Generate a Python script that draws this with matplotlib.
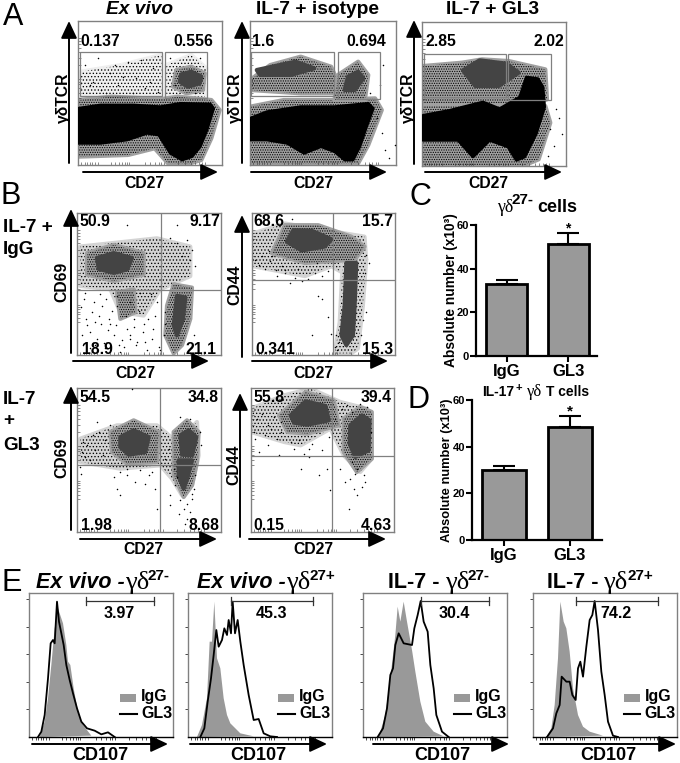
import matplotlib
matplotlib.use('Agg')
import matplotlib.pyplot as plt
from matplotlib.patches import Polygon, Rectangle

plt.rcParams['font.family'] = ['Liberation Sans', 'DejaVu Sans']
plt.rcParams['font.weight'] = 'bold'
plt.rcParams['hatch.linewidth'] = 0.55

W, H = 680, 763
GRAY = '#808080'

# flow panels are in channels 0-432 on both axes
log_ticks = [8, 20, 28, 36, 42, 50, 60, 100, 112, 124, 132, 140, 146, 152, 200, 216, 232, 242, 250, 258, 300, 320, 340, 352, 362, 372, 380]

# Panel A
a1_solid = [(0,170),(67,180),(167,180),(247,175),(307,185),(397,183),(407,170),(387,105),(367,55),(342,25),(312,15),(277,35),(242,90),(207,95),(147,75),(67,65),(0,65)]
a1_dark = [[(305,250),(330,235),(365,245),(370,265),(340,280),(310,272)]]
a1_mid = [[(0,195),(100,205),(250,198),(300,205),(400,195),(425,165),(400,80),(370,15),(330,3),(270,5),(230,50),(150,30),(0,25)],
          [(285,235),(325,215),(375,225),(380,275),(340,295),(295,285)]]
a1_light = [[(8,205),(250,205),(250,330),(130,300),(8,280)],
            [(265,205),(380,205),(385,290),(340,330),(265,300)]]
a2_solid = [(0,140),(50,160),(150,175),(250,175),(350,185),(365,170),(345,115),(325,55),(305,15),(280,15),(250,40),(210,55),(160,35),(110,65),(50,75),(0,75)]
a2_dark = [[(20,285),(135,310),(190,290),(120,270),(30,270)],
           [(280,225),(290,265),(320,280),(335,260),(310,225)]]
a2_mid = [[(0,175),(100,195),(250,195),(370,200),(390,165),(350,60),(320,5),(260,3),(0,5)],
          [(0,255),(60,300),(150,325),(240,295),(260,250),(265,215),(150,215),(0,225)],
          [(250,195),(260,270),(320,310),(350,270),(340,195)]]
a3_solid = [(3,152),(83,167),(183,192),(233,172),(293,207),(313,267),(348,262),(363,237),(368,177),(343,97),(308,27),(283,17),(258,57),(203,77),(153,27),(108,77),(3,77)]
a3_dark = [[(123,287),(173,317),(253,307),(290,280),(230,240),(160,240)]]
a3_mid = [[(3,300),(120,310),(180,320),(260,315),(370,290),(375,200),(300,170),(3,165)],
          [(0,180),(370,180),(385,130),(350,20),(310,3),(0,3)]]

a1_gates = [(5, 207, 247, 131), (260, 200, 126, 138)]
a2_gates = [(3, 207, 247, 131), (259, 199, 127, 139)]
a3_gates = [(5, 207, 248, 130), (259, 198, 129, 139)]
a1_x = [20,45,70,95,120,150,175,200,225,240,60,110,165,215,35,85,135,190,275,290,350,365]
a1_y = [300,250,225,275,240,310,260,230,290,220,320,300,215,250,240,215,265,315,320,240,215,320]
a2_x = [355,375,392,400,412,385,430,395]
a2_y = [215,140,95,45,20,240,60,300]
a3_x = [385,402,420,395,410,378]
a3_y = [110,170,95,60,145,30]

# Panel B
b1_dark = [[(60,295),(110,310),(165,295),(150,260),(110,250),(65,262)],
           [(300,180),(325,175),(318,110),(300,60),(290,90)]]
b1_mid = [[(30,310),(110,335),(200,310),(200,245),(110,225),(30,245)],
          [(290,215),(345,205),(340,110),(315,30),(290,5),(265,60),(270,150)],
          [(120,190),(170,200),(175,130),(130,110)]]
b1_light = [[(10,330),(240,355),(340,330),(340,240),(250,200),(200,120),(130,130),(100,200),(10,210)]]
b1_x = [20,45,70,30,95,120,60,150,85,180,110,200,140,225,170,245,40,75,130,210,15,55,100,160,260,235,250,265,350,340,150,300,265,120,55,
        12,28,52,38,66,82,92,105,118,134,146,158,172,186,198,212,228,240,222,205,190,176,160,125,88,72,48,25,18,300,315,330,280,345,355]
b1_y = [170,130,185,90,110,150,50,80,20,40,60,95,25,50,110,25,20,150,10,15,60,100,95,160,60,120,15,130,60,290,395,395,95,180,30,
        145,110,160,70,120,35,75,135,90,45,120,60,85,135,70,110,80,160,185,40,190,30,50,30,170,95,35,190,30,340,300,350,355,320,270]
b2_dark = [[(105,345),(125,380),(180,378),(240,352),(220,330),(150,318)],
           [(285,280),(315,280),(310,150),(305,60),(285,30),(270,60),(280,150)]]
b2_mid = [[(60,310),(100,395),(200,395),(300,360),(340,330),(310,290),(160,280)]]
b2_light = [[(3,370),(100,400),(340,360),(345,290),(310,230),(240,270),(160,240),(3,270)],
            [(275,300),(345,290),(335,150),(320,20),(300,5),(250,5),(265,100)]]
b2_x = [115,200,180,210,230,240,120,60,
        8,22,38,55,72,90,30,50,75,100,130,150,170,190,210,230,345,352,340,255,262,250,258,335,328,345,100,140,195]
b2_y = [220,180,60,170,115,65,415,300,
        290,275,262,285,258,270,300,315,240,248,235,225,232,250,240,255,305,280,250,60,40,25,15,105,60,130,260,262,280]
b3_dark = [[(130,285),(170,305),(215,285),(205,240),(155,232),(130,255)],
           [(310,290),(335,305),(358,285),(345,230),(315,232)],
           [(305,215),(345,215),(332,165),(320,130),(305,170)]]
b3_mid = [[(100,300),(170,335),(245,300),(240,210),(150,205),(105,240)],
          [(290,300),(330,335),(365,300),(360,210),(345,140),(320,105),(290,170)]]
b3_light = [[(10,280),(120,320),(240,320),(300,270),(360,330),(365,230),(345,140),(315,110),(285,160),(250,200),(130,190),(10,210)]]
b3_x = [120,130,150,175,205,240,280,310,320,305,330,340,295,345,325,280,350,110,235,8,12,15,165,60,215,
        30,48,66,85,100,25,55,78,18,40,130,150,190,225,265,275,290,300,355,370,372,340,310,345,330]
b3_y = [130,110,170,150,145,70,110,95,70,55,40,60,140,100,25,80,130,165,130,195,175,240,430,330,170,
        260,290,300,275,320,225,245,230,270,215,180,190,185,180,220,250,190,165,170,300,260,340,345,115,85]
b4_dark = [[(120,350),(165,392),(225,378),(235,335),(170,322),(130,328)],
           [(300,320),(335,350),(358,335),(355,245),(315,225),(298,265)]]
b4_mid = [[(85,350),(165,420),(250,395),(265,320),(170,295),(110,300)],
          [(280,340),(330,375),(365,360),(365,220),(320,180),(280,240)]]
b4_light = [[(0,370),(100,410),(180,430),(270,390),(350,370),(365,220),(330,180),(280,230),(240,310),(150,260),(100,270),(0,300)]]
b4_x = [25,50,85,120,175,205,230,240,285,300,320,335,315,295,270,345,175,90,150,310,
        8,18,34,52,70,90,12,42,60,78,130,145,160,185,215,235,255,275,290,305,330,350,362,320,340,305]
b4_y = [240,260,230,270,225,170,190,125,150,160,110,135,175,70,190,150,250,300,190,130,
        300,340,355,320,345,330,280,290,310,280,250,275,235,265,245,285,340,370,380,360,385,375,300,190,170,210]

b_labels = [
    [('50.9', 80, 222, 'left'), ('9.17', 220, 222, 'right'), ('18.9', 82, 349, 'left'), ('21.1', 217, 349, 'right')],
    [('68.6', 253, 222, 'left'), ('15.7', 393, 222, 'right'), ('0.341', 255, 349, 'left'), ('15.3', 393, 349, 'right')],
    [('54.5', 79, 398, 'left'), ('34.8', 219, 398, 'right'), ('1.98', 81, 526, 'left'), ('8.68', 219, 526, 'right')],
    [('55.8', 253, 398, 'left'), ('39.4', 392, 398, 'right'), ('0.15', 253, 526, 'left'), ('4.63', 392, 526, 'right')],
]

# Panels C and D
bar_names = ['IgG', 'GL3']
c_means = [33, 51.5]
c_err = [2, 5]
d_means = [30, 48.5]
d_err = [1.7, 4.7]

# Panel E, histograms
e1_gl3_x = [27,37,47,57,65,72,77,84,90,97,104,112,122,132,144,157,174,197,217,237,257]
e1_gl3_y = [0,16,66,176,281,291,281,406,346,311,276,216,171,131,86,46,26,19,8,14,0]
e1_igg_x = [32,47,57,67,77,87,102,112,117,124,134,147,162,187]
e1_igg_y = [0,46,116,216,326,386,341,276,226,216,146,76,36,4]
e2_gl3_x = [37,49,59,69,77,85,92,102,109,117,122,129,134,141,149,157,167,182,197,212,227,247,267]
e2_gl3_y = [0,26,106,176,246,321,271,291,326,306,351,311,406,311,351,286,216,126,51,54,11,2,0]
e2_igg_x = [27,42,57,65,72,79,87,97,107,117,127,142,157,197]
e2_igg_y = [0,36,116,286,286,406,236,206,116,66,41,26,11,2]
e3_gl3_x = [44,60,72,82,90,97,107,122,147,154,164,173,182,194,202,212,220,237,257]
e3_gl3_y = [0,26,86,186,206,276,311,281,276,326,366,408,346,316,216,146,66,16,0]
e3_igg_x = [47,67,82,97,104,112,122,132,147,157,172,187,212,242]
e3_igg_y = [0,66,176,306,391,346,406,346,261,196,106,46,16,2]
e4_gl3_x = [42,60,70,80,86,100,110,118,128,135,142,150,160,170,178,185,195,205,215,225,240,255]
e4_gl3_y = [0,26,71,96,181,166,166,126,111,206,226,181,271,351,366,408,321,196,126,46,4,0]
e4_igg_x = [40,55,65,75,82,92,100,110,120,135,150,170,210]
e4_igg_y = [0,26,96,236,406,346,326,256,146,66,31,16,4]
e_gates = [(172, 376, '3.97', 272), (129, 375, '45.3', 249), (175, 377, '30.4', 274), (130, 375, '74.2', 250)]
e_legend_x = [274, 270, 274, 272]

fig = plt.figure(figsize=(W / 100, H / 100), dpi=100)


def panel(x0, y0, x1, y1):
    return fig.add_axes([x0 / W, 1 - y1 / H, (x1 - x0) / W, (y1 - y0) / H])


def flow_panel(box, solid=None, dark=(), mid=(), light=(), gates=(), quad=None, dots=None, light_face='#d4d4d4'):
    ax = panel(*box)
    ax.set_xlim(0, 432)
    ax.set_ylim(0, 432)
    for s in ax.spines.values():
        s.set_color(GRAY)
        s.set_linewidth(1.0)
    ax.set_xticks(log_ticks)
    ax.set_yticks([t for t in log_ticks if t > 60])
    ax.tick_params(direction='in', length=2, width=0.4, color='#333333', labelbottom=False, labelleft=False)
    for p in light:
        ax.add_patch(Polygon(p, facecolor=light_face, edgecolor=light_face, lw=3, joinstyle='round', zorder=1))
        ax.add_patch(Polygon(p, facecolor='none', edgecolor='k', hatch='.....', lw=0, zorder=1))
    for p in mid:
        ax.add_patch(Polygon(p, facecolor='#a0a0a0', edgecolor='#a0a0a0', lw=3, joinstyle='round', zorder=1.5))
        ax.add_patch(Polygon(p, facecolor='none', edgecolor='k', hatch='.......', lw=0, zorder=1.5))
    for p in dark:
        ax.add_patch(Polygon(p, facecolor='#444444', edgecolor='#444444', lw=3, joinstyle='round', zorder=2))
    if solid:
        ax.add_patch(Polygon(solid, facecolor='k', edgecolor='k', lw=2, joinstyle='round', zorder=3))
    for g in gates:
        ax.add_patch(Rectangle(g[:2], g[2], g[3], fill=False, edgecolor=GRAY, lw=0.9, zorder=4))
    if quad:
        ax.axvline(quad[0], color=GRAY, lw=0.9, zorder=4)
        ax.axhline(quad[1], color=GRAY, lw=0.9, zorder=4)
    if dots:
        ax.scatter(dots[0], dots[1], s=1.2, c='k', lw=0, zorder=3)
    return ax


flow_panel((78, 21, 222, 165), a1_solid, dark=a1_dark, mid=a1_mid, light=a1_light, gates=a1_gates, dots=(a1_x, a1_y), light_face='#efefef')
flow_panel((250, 21, 396, 165), a2_solid, dark=a2_dark, mid=a2_mid, gates=a2_gates, dots=(a2_x, a2_y))
flow_panel((422, 22, 566, 166), a3_solid, dark=a3_dark, mid=a3_mid, gates=a3_gates, dots=(a3_x, a3_y))
flow_panel((77, 213, 221, 355), dark=b1_dark, mid=b1_mid, light=b1_light, quad=(251, 199), dots=(b1_x, b1_y))
flow_panel((252, 213, 395, 355), dark=b2_dark, mid=b2_mid, light=b2_light, quad=(246, 229), dots=(b2_x, b2_y))
flow_panel((77, 388, 221, 532), dark=b3_dark, mid=b3_mid, light=b3_light, quad=(250, 202), dots=(b3_x, b3_y))
flow_panel((251, 388, 394, 532), dark=b4_dark, mid=b4_mid, light=b4_light, quad=(245, 229), dots=(b4_x, b4_y))


def bar_panel(box, means, err, xlim, ytick_size):
    ax = panel(*box)
    ax.bar([0, 1], means, width=0.667, color='#999999', edgecolor='k', lw=2)
    ax.errorbar([0, 1], means, yerr=[[0, 0], err], fmt='none', ecolor='k', elinewidth=1.5, capsize=8, capthick=1.5)
    ax.set_xlim(*xlim)
    ax.set_ylim(0, 60)
    ax.spines['top'].set_visible(False)
    ax.spines['right'].set_visible(False)
    ax.spines['left'].set_linewidth(1.6)
    ax.spines['bottom'].set_linewidth(1.6)
    ax.set_xticks([0, 1], bar_names, fontsize=12)
    ax.set_yticks([0, 20, 40, 60])
    ax.tick_params(axis='y', labelsize=ytick_size, width=1.5, length=4, pad=1)
    ax.tick_params(axis='x', width=1.5, length=4, pad=2)
    return ax


bar_panel((476, 225, 597, 356), c_means, c_err, (-0.496, 1.47), 8)
bar_panel((472, 400, 602, 540), d_means, d_err, (-0.485, 1.485), 8)


def hist_panel(box, gl3_x, gl3_y, igg_x, igg_y, gate, leg_x):
    ax = panel(*box)
    ax.set_xlim(0, 432)
    ax.set_ylim(0, 432)
    for s in ax.spines.values():
        s.set_color(GRAY)
        s.set_linewidth(1.0)
    ax.spines['bottom'].set_color('k')
    ax.fill(igg_x, igg_y, color='#999999', lw=0)
    ax.plot(gl3_x, gl3_y, color='k', lw=1.3)
    ax.set_xticks(log_ticks)
    ax.set_yticks([83, 166, 248, 331, 413])
    ax.tick_params(length=2, width=0.5, labelbottom=False, labelleft=False)
    ax.plot([gate[0], gate[1]], [408, 408], color='#333333', lw=0.9)
    ax.plot([gate[0], gate[0]], [396, 420], color='#333333', lw=0.9)
    ax.plot([gate[1], gate[1]], [396, 420], color='#333333', lw=0.9)
    ax.text(gate[3], 371, gate[2], ha='center', va='center', fontsize=11.5)
    ax.add_patch(Rectangle((leg_x, 104), 48, 24, color='#999999', lw=0))
    ax.plot([leg_x, leg_x + 50], [69, 69], color='k', lw=1.5)
    ax.text(leg_x + 63, 120, 'IgG', va='center', fontsize=11.5)
    ax.text(leg_x + 63, 69, 'GL3', va='center', fontsize=11.5)


hist_panel((29, 593, 173, 737), e1_gl3_x, e1_gl3_y, e1_igg_x, e1_igg_y, e_gates[0], e_legend_x[0])
hist_panel((188, 593, 332, 737), e2_gl3_x, e2_gl3_y, e2_igg_x, e2_igg_y, e_gates[1], e_legend_x[1])
hist_panel((363, 593, 507, 737), e3_gl3_x, e3_gl3_y, e3_igg_x, e3_igg_y, e_gates[2], e_legend_x[2])
hist_panel((533, 593, 677, 737), e4_gl3_x, e4_gl3_y, e4_igg_x, e4_igg_y, e_gates[3], e_legend_x[3])

# overlay in image pixels for the labels and axis arrows
ov = fig.add_axes([0, 0, 1, 1], zorder=10)
ov.set_xlim(0, W)
ov.set_ylim(H, 0)
ov.axis('off')
ov.patch.set_alpha(0)


def label(x, y, s, size=11.3, ha='center', rot=0, **kw):
    ov.text(x, y, s, fontsize=size, ha=ha, va='center', rotation=rot, **kw)


def arrow(x0, y0, x1, y1):
    ov.annotate('', xy=(x1, y1), xytext=(x0, y0),
                arrowprops=dict(arrowstyle='-|>,head_length=0.75,head_width=0.35', color='k', lw=1.4,
                                mutation_scale=14, shrinkA=0, shrinkB=0))


for letter, x, y in [('A', 13, 17), ('B', 11, 196), ('C', 420, 197), ('D', 418, 400), ('E', 12, 583)]:
    label(x, y, letter, size=22, fontweight='normal')

label(140, 10, 'Ex vivo', size=13.8, style='italic')
label(318, 10, 'IL-7 + isotype', size=13.8)
label(493, 10, 'IL-7 + GL3', size=13.8)
for x in [144, 313, 488]:
    label(x, 184, 'CD27')
for x in [63, 235, 408]:
    label(x, 98, 'γδTCR', rot=90)
for s, x, ha in [('0.137', 80, 'left'), ('0.556', 213, 'right'), ('1.6', 252, 'left'), ('0.694', 386, 'right'),
                 ('2.85', 425, 'left'), ('2.02', 564, 'right')]:
    label(x, 42, s, ha=ha)

for group in b_labels:
    for s, x, y, ha in group:
        label(x, y, s, ha=ha)
for x, y in [(135, 373), (313, 373), (143, 550), (313, 550)]:
    label(x, y, 'CD27')
for s, x, y in [('CD69', 62, 282), ('CD44', 235, 285), ('CD69', 62, 458), ('CD44', 234, 465)]:
    label(x, y, s, rot=90)
for s, y in [('IL-7 +', 227), ('IgG', 250), ('IL-7', 399), ('+', 421), ('GL3', 446)]:
    label(3, y, s, size=13.6, ha='left')

# C and D headings
label(497, 207, 'γδ', size=13, ha='left', family='Liberation Serif', fontweight='normal')
label(511, 200, '27-', size=11, ha='left')
label(537, 207, 'cells', size=13, ha='left')
label(482.5, 392, 'IL-17', size=10, ha='left')
label(515, 388, '+', size=8, ha='left')
label(527, 392, 'γδ', size=12, ha='left', family='Liberation Serif', fontweight='normal')
label(545.5, 392, 'T cells', size=10, ha='left')
label(451, 290, 'Absolute number (x10³)', size=9.9, rot=90)
label(447, 470, 'Absolute number (x10³)', size=9.3, rot=90)
label(568, 228, '*', size=10)
label(570, 411, '*', size=11)

# E headings
e_heads = [('Ex vivo -', 36, 'italic', 125, 148, '27-', 100), ('Ex vivo -', 197, 'italic', 286, 309, '27+', 258),
           ('IL-7 -', 388, 'normal', 445, 468, '27-', 442), ('IL-7 -', 547, 'normal', 603, 627, '27+', 608)]
for s, x, st, gx, sx, sup, cx in e_heads:
    label(x, 582, s, size=15.5, ha='left', style=st)
    label(gx, 582, 'γδ', size=19, ha='left', family='Liberation Serif', fontweight='normal')
    label(sx, 576, sup, size=11, ha='left')
    label(cx, 755, 'CD107', size=13)

arrow(69, 163, 69, 21)
arrow(83, 172, 218, 172)
arrow(242, 163, 242, 21)
arrow(251, 172, 387, 172)
arrow(414, 164, 414, 20)
arrow(425, 172, 562, 172)
arrow(71, 353, 71, 209)
arrow(73, 361, 209, 361)
arrow(242, 357, 242, 215)
arrow(252, 361, 388, 361)
arrow(71, 530, 71, 386)
arrow(80, 539, 217, 539)
arrow(240, 537, 240, 393)
arrow(249, 539, 386, 539)
arrow(32, 744, 168, 744)
arrow(190, 744, 327, 744)
arrow(373, 744, 509, 744)
arrow(540, 744, 676, 744)

fig.savefig('out.png', dpi=100)
